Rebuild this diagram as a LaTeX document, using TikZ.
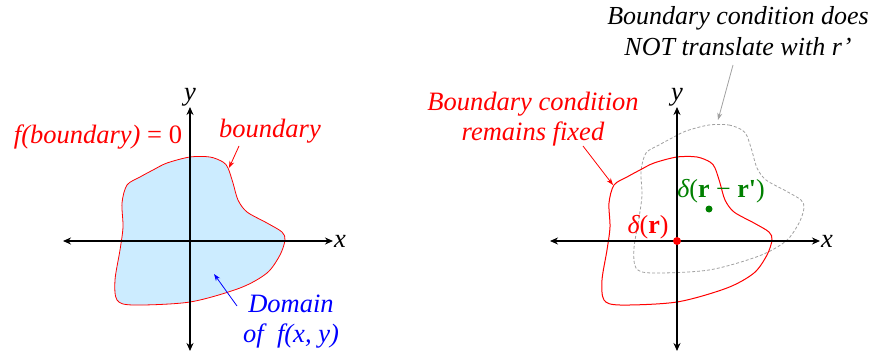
\documentclass[tikz,border=0pt]{standalone}
\usepackage{fontspec}
\setmainfont{Liberation Serif}
\usetikzlibrary{arrows.meta}
\definecolor{domainblue}{RGB}{204,236,255}
\definecolor{deltagreen}{RGB}{0,128,0}
\definecolor{shiftgray}{RGB}{160,160,160}

\begin{document}
\begin{tikzpicture}[x=1pt, y=-1pt,
    axis/.style={line width=1.6pt, {Stealth[length=8pt,width=7pt]}-{Stealth[length=8pt,width=7pt]}},
    lbl/.style={font=\fontsize{26.5}{30}\selectfont\itshape, align=center, inner sep=1pt},
    dlt/.style={font=\fontsize{26}{30}\selectfont, inner sep=1pt},
    ptr/.style={-{Stealth[length=7pt,width=5pt]}, line width=0.8pt},
    blob/.pic={\path[pic actions] plot[smooth cycle, tension=0.5] coordinates {
        (0,-84) (20,-84) (33,-79) (38,-73) (43,-58) (48,-41) (57,-29) (77,-18)
        (92,-9) (95,-1) (90,14) (77,32) (50,47) (0,61) (-57,64) (-73,59)
        (-75,39) (-70,9) (-67,-14) (-68,-38) (-63,-56) (-50,-64) (-37,-71) (-23,-78)};}]
  \useasboundingbox (0,0) rectangle (876,353);

  % left: domain of f
  \coordinate (o1) at (190,241);
  \pic[draw=red, fill=domainblue, line width=0.8pt] at (o1) {blob};
  \coordinate (xl1) at (63,241);  \coordinate (xr1) at (333,241);
  \coordinate (yt1) at (190,107); \coordinate (yb1) at (190,351);
  \draw[axis] (xl1) -- (xr1);
  \draw[axis] (yb1) -- (yt1);
  \node[lbl, right] (xlab1) at (xr1) {x};
  \node[lbl, above] (ylab1) at (yt1) {y};
  \node[lbl, red] (fbnd) at (98,137) {f(boundary) {\upshape= 0}};
  \node[lbl, red] (bnd) at (270,131) {boundary};
  \coordinate (bndtip) at (229,168);
  \draw[ptr, red] (239,146) -- (bndtip);
  \node[lbl, blue] (dom) at (291,322) {Domain\\of \ f(x, y)};
  \coordinate (domtip) at (214,274);
  \draw[ptr, blue] (237,306) -- (domtip);

  % right: delta source at r and r'
  \coordinate (o2) at (677,241);
  \coordinate (o3) at (709,209);
  \pic[draw=shiftgray, dashed, dash pattern=on 3pt off 2pt, line width=0.8pt] at (o3) {blob};
  \pic[draw=red, line width=1pt] at (o2) {blob};
  \coordinate (xl2) at (550,241);  \coordinate (xr2) at (820,241);
  \coordinate (yt2) at (677,107);  \coordinate (yb2) at (677,351);
  \draw[axis] (xl2) -- (xr2);
  \draw[axis] (yb2) -- (yt2);
  \node[lbl, right] (xlab2) at (xr2) {x};
  \node[lbl, above] (ylab2) at (yt2) {y};
  \fill[red] (o2) circle (4pt);
  \fill[deltagreen] (o3) circle (3.5pt);
  \node[dlt, red] (dr) at (648,227) {{\itshape δ}(\textbf{r})};
  \node[dlt, deltagreen] (drr) at (721,191) {\addfontfeature{Ligatures=TeXOff}{\itshape δ}(\textbf{r} − \textbf{r'})};
  \node[lbl, red] (fixed) at (533,119) {Boundary condition\\remains fixed};
  \coordinate (fixtip) at (613,185);
  \draw[ptr, red] (583,146) -- (fixtip);
  \node[lbl, font=\fontsize{26}{31}\selectfont\itshape] (moved) at (738,31) {Boundary condition does\\NOT translate with r’};
  \coordinate (movtip) at (718,120);
  \draw[ptr, shiftgray] (733,65) -- (movtip);
\end{tikzpicture}
\end{document}
